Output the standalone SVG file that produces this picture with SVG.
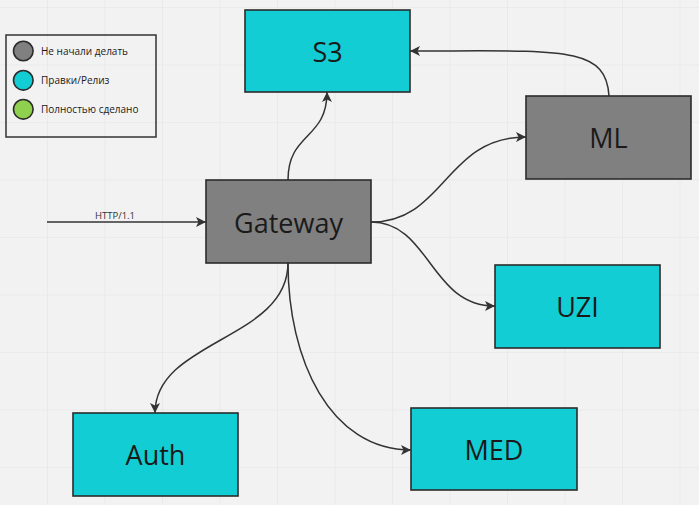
<svg xmlns="http://www.w3.org/2000/svg" width="699" height="505" viewBox="0 0 699 505">
  <defs>
    <pattern id="grid" x="47" y="7" width="57.5" height="57.5" patternUnits="userSpaceOnUse">
      <path d="M0,0 H57.5 M0,0 V57.5" fill="none" stroke="#e4e4e4" stroke-width="1.2"/>
    </pattern>
    <marker id="arrow" viewBox="0 0 10 10" refX="10" refY="5" markerWidth="10" markerHeight="10" markerUnits="userSpaceOnUse" orient="auto">
      <path d="M0,0 L10,5 L0,10 L2.5,5 Z" fill="#333333"/>
    </marker>
  </defs>
  <style>
    .node { stroke: #2b2b2b; stroke-width: 1.6; }
    .grey { fill: #808080; }
    .cyan { fill: #12cdd4; }
    .green { fill: #8fd14f; }
    .label { font-family: "Open Sans", "Noto Sans", sans-serif; font-size: 27px; fill: #1a1a1a; text-anchor: middle; }
    .legend-text { font-family: "Open Sans", "Noto Sans", sans-serif; font-size: 10px; fill: #1a1a1a; }
    .edge { fill: none; stroke: #333333; stroke-width: 1.5; marker-end: url(#arrow); }
    .edge-label { font-family: "Open Sans", "Noto Sans", sans-serif; font-size: 9.5px; fill: #333333; text-anchor: middle; }
  </style>
  <rect width="699" height="505" fill="#f2f2f2"/>
  <rect width="699" height="505" fill="url(#grid)"/>

  <g id="legend">
    <rect x="6" y="35" width="150" height="102" fill="none" stroke="#333333" stroke-width="1.5"/>
    <circle cx="23.3" cy="51" r="9.8" class="node grey" stroke-width="1.3"/>
    <circle cx="23.3" cy="80.3" r="9.8" class="node cyan" stroke-width="1.3"/>
    <circle cx="23.3" cy="109.3" r="9.8" class="node green" stroke-width="1.3"/>
    <text x="41" y="55" class="legend-text">Не начали делать</text>
    <text x="41" y="84" class="legend-text">Правки/Релиз</text>
    <text x="41" y="113" class="legend-text">Полностью сделано</text>
  </g>

  <g id="connectors">
    <line x1="47" y1="222" x2="206" y2="222" class="edge"/>
    <text x="115" y="219" class="edge-label">HTTP/1.1</text>
    <path d="M288,180 C288,132 327,140 327,92" class="edge"/>
    <path d="M371,222 C445,222 445,137 526,137" class="edge"/>
    <path d="M371,222 C430,222 430,306 495,306" class="edge"/>
    <path d="M288,263 C288,340 155,340 155,413" class="edge"/>
    <path d="M288,263 C288,360 330,450 411,450" class="edge"/>
    <path d="M609,96 C606,45 560,51 410,51" class="edge"/>
  </g>

  <g id="node-s3">
    <rect x="245" y="10" width="165" height="82" class="node cyan"/>
    <text x="327.5" y="62" class="label">S3</text>
  </g>
  <g id="node-ml">
    <rect x="526" y="96" width="165" height="83" class="node grey"/>
    <text x="608.5" y="148" class="label">ML</text>
  </g>
  <g id="node-gateway">
    <rect x="206" y="180" width="165" height="83" class="node grey"/>
    <text x="288.5" y="233" class="label">Gateway</text>
  </g>
  <g id="node-uzi">
    <rect x="495" y="265" width="165" height="83" class="node cyan"/>
    <text x="577.5" y="317" class="label">UZI</text>
  </g>
  <g id="node-med">
    <rect x="411" y="408" width="166" height="82" class="node cyan"/>
    <text x="494" y="460" class="label">MED</text>
  </g>
  <g id="node-auth">
    <rect x="73" y="413" width="165" height="83" class="node cyan"/>
    <text x="155.5" y="465" class="label">Auth</text>
  </g>
</svg>
